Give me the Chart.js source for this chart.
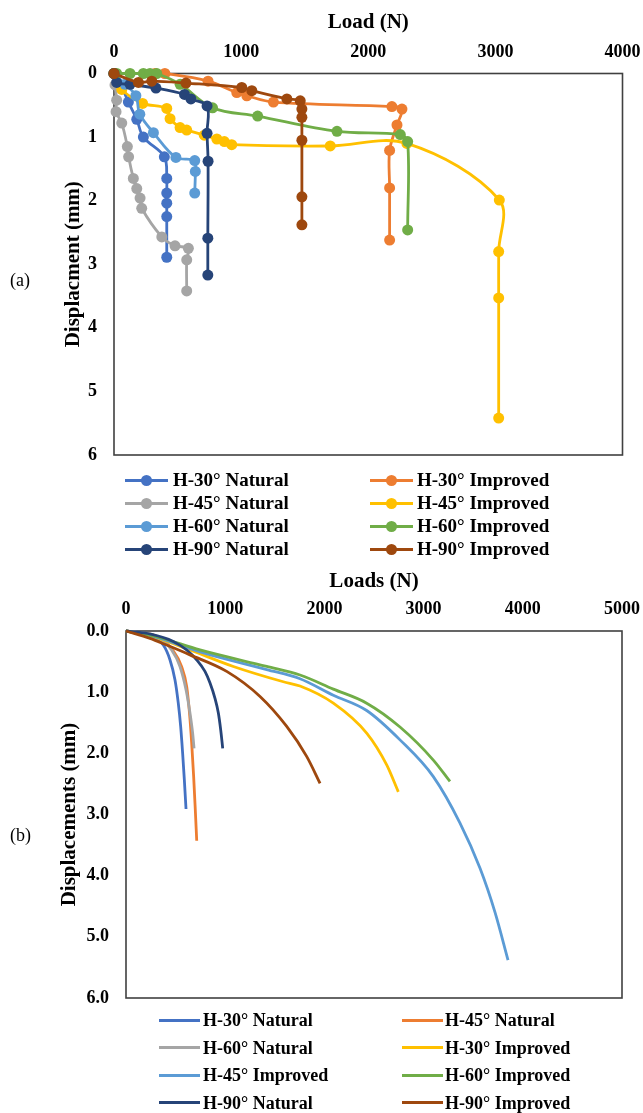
<!DOCTYPE html>
<html><head><meta charset="utf-8">
<script src="https://cdn.jsdelivr.net/npm/chart.js@4.4.1/dist/chart.umd.min.js"></script>
<style>
html,body{margin:0;padding:0;background:#fff;}
body{width:643px;height:1113px;position:relative;overflow:hidden;font-family:"Liberation Serif","Times New Roman",serif;color:#000;}
canvas{position:absolute;left:0;}
.tag{position:absolute;font-size:18px;line-height:20px;}
.lg-line{position:absolute;height:3px;}
.lg-dot{position:absolute;border-radius:50%;}
.lg-text{position:absolute;font-weight:bold;white-space:nowrap;}
</style></head>
<body>
<canvas id="ca" width="643" height="470" style="top:0"></canvas>
<canvas id="cb" width="643" height="460" style="top:560px"></canvas>
<div class="tag" style="left:10px;top:270px">(a)</div>
<div class="tag" style="left:10px;top:825px">(b)</div>
<div id="legA"></div>
<div id="legB"></div>
<script>
// ---------- Chart (a) data ----------
const namesA = ["H-30° Natural","H-30° Improved","H-45° Natural","H-45° Improved","H-60° Natural","H-60° Improved","H-90° Natural","H-90° Improved"];
const h30NatLoadA = [0, 60, 113, 179, 231, 396, 415, 415, 415, 415, 415];
const h30NatDispA = [0, 0.20, 0.45, 0.72, 1.00, 1.31, 1.65, 1.88, 2.04, 2.25, 2.89];
const h30ImpLoadA = [0, 323, 400, 740, 966, 1045, 1254, 2186, 2265, 2226, 2168, 2168, 2168];
const h30ImpDispA = [0, 0, 0, 0.12, 0.30, 0.35, 0.45, 0.52, 0.56, 0.81, 1.21, 1.80, 2.62];
const h45NatLoadA = [0, 8, 21, 16, 61, 105, 115, 152, 179, 205, 218, 376, 480, 585, 572, 572];
const h45NatDispA = [0, 0.18, 0.42, 0.60, 0.78, 1.15, 1.31, 1.65, 1.81, 1.96, 2.12, 2.57, 2.71, 2.75, 2.93, 3.42];
const h45ImpLoadA = [0, 61, 225, 415, 441, 520, 572, 710, 809, 868, 926, 1701, 2304, 3031, 3026, 3026, 3026];
const h45ImpDispA = [0, 0.25, 0.47, 0.55, 0.71, 0.85, 0.89, 0.97, 1.03, 1.07, 1.12, 1.14, 1.10, 1.99, 2.80, 3.53, 5.42];
const h60NatLoadA = [0, 87, 172, 203, 310, 487, 635, 640, 635];
const h60NatDispA = [0, 0.17, 0.35, 0.64, 0.93, 1.32, 1.37, 1.54, 1.88];
const h60ImpLoadA = [0, 21, 126, 231, 283, 336, 520, 775, 1130, 1754, 2252, 2310, 2310];
const h60ImpDispA = [0, 0, 0, 0, 0, 0, 0.17, 0.54, 0.67, 0.91, 0.96, 1.07, 2.46];
const h90NatLoadA = [0, 21, 126, 330, 555, 605, 732, 732, 740, 738, 738];
const h90NatDispA = [0, 0.14, 0.17, 0.23, 0.33, 0.40, 0.51, 0.94, 1.38, 2.59, 3.17];
const h90ImpLoadA = [0, 192, 297, 566, 1005, 1084, 1360, 1465, 1478, 1478, 1478, 1478, 1478];
const h90ImpDispA = [0, 0.14, 0.12, 0.15, 0.22, 0.27, 0.40, 0.43, 0.56, 0.69, 1.05, 1.94, 2.38];
const xTicksA = [0, 1000, 2000, 3000, 4000];
const yTicksA = [0, 1, 2, 3, 4, 5, 6];

// ---------- Chart (b) data ----------
const namesB = ["H-30° Natural","H-45° Natural","H-60° Natural","H-30° Improved","H-45° Improved","H-60° Improved","H-90° Natural","H-90° Improved"];
const h30NatLoadB = [0, 242, 376, 443, 494, 527, 551, 571, 588, 605];
const h30NatDispB = [0, 0.07, 0.23, 0.47, 0.80, 1.18, 1.56, 2.00, 2.43, 2.91];
const h45NatLoadB = [0, 150, 315, 470, 560, 612, 640, 662, 682, 697, 713];
const h45NatDispB = [0, 0.03, 0.09, 0.31, 0.58, 0.91, 1.34, 1.83, 2.38, 2.87, 3.43];
const h60NatLoadB = [0, 150, 309, 460, 544, 605, 645, 672, 686];
const h60NatDispB = [0, 0.03, 0.09, 0.31, 0.58, 0.96, 1.34, 1.67, 1.92];
const h30ImpLoadB = [0, 300, 645, 1082, 1586, 1754, 2090, 2426, 2628, 2745];
const h30ImpDispB = [0, 0.11, 0.31, 0.58, 0.83, 0.90, 1.18, 1.67, 2.19, 2.63];
const h45ImpLoadB = [0, 300, 746, 1418, 1754, 2090, 2426, 2762, 3098, 3367, 3569, 3720, 3851];
const h45ImpDispB = [0, 0.10, 0.34, 0.63, 0.78, 1.05, 1.30, 1.78, 2.38, 3.14, 3.88, 4.60, 5.38];
const h60ImpLoadB = [0, 300, 746, 1418, 1754, 2090, 2426, 2762, 3098, 3266];
const h60ImpDispB = [0, 0.09, 0.31, 0.58, 0.72, 0.95, 1.18, 1.57, 2.11, 2.46];
const h90NatLoadB = [0, 250, 477, 612, 712, 796, 847, 897, 931, 955, 975];
const h90NatDispB = [0, 0.05, 0.17, 0.31, 0.47, 0.66, 0.85, 1.10, 1.34, 1.62, 1.92];
const h90ImpLoadB = [0, 242, 410, 645, 1015, 1351, 1620, 1821, 1956];
const h90ImpDispB = [0, 0.12, 0.23, 0.39, 0.66, 1.07, 1.56, 2.05, 2.49];
const xTicksB = [0, 1000, 2000, 3000, 4000, 5000];
const yTicksB = [0, 1, 2, 3, 4, 5, 6];

// ---------- styles ----------
const colorsA = ["#4472C4","#ED7D31","#A5A5A5","#FFC000","#5B9BD5","#70AD47","#264478","#9E480E"];
const colorsB = ["#4472C4","#ED7D31","#A5A5A5","#FFC000","#5B9BD5","#70AD47","#264478","#9E480E"];

const serifFont = "'Liberation Serif','Times New Roman',serif";

function pts(xs, ys){ return xs.map((x,i)=>({x:x, y:ys[i]})); }

const seriesA = [
  pts(h30NatLoadA,h30NatDispA), pts(h30ImpLoadA,h30ImpDispA),
  pts(h45NatLoadA,h45NatDispA), pts(h45ImpLoadA,h45ImpDispA),
  pts(h60NatLoadA,h60NatDispA), pts(h60ImpLoadA,h60ImpDispA),
  pts(h90NatLoadA,h90NatDispA), pts(h90ImpLoadA,h90ImpDispA)
];
const seriesB = [
  pts(h30NatLoadB,h30NatDispB), pts(h45NatLoadB,h45NatDispB),
  pts(h60NatLoadB,h60NatDispB), pts(h30ImpLoadB,h30ImpDispB),
  pts(h45ImpLoadB,h45ImpDispB), pts(h60ImpLoadB,h60ImpDispB),
  pts(h90NatLoadB,h90NatDispB), pts(h90ImpLoadB,h90ImpDispB)
];

const boxPlugin = {
  id: 'box',
  beforeDatasetsDraw(chart){
    const {ctx, chartArea:a} = chart;
    ctx.save();
    ctx.strokeStyle = '#404040';
    ctx.lineWidth = 1.6;
    ctx.strokeRect(a.left, a.top, a.right - a.left, a.bottom - a.top);
    ctx.restore();
  }
};

function makeOptions(cfg){
  return {
    responsive: false,
    animation: false,
    events: [],
    layout: { padding: { left: 0, top: 0, right: cfg.padRight, bottom: cfg.padBottom } },
    plugins: { legend: { display: false }, tooltip: { enabled: false } },
    scales: {
      x: {
        type: 'linear', position: 'top', min: cfg.xTicks[0], max: cfg.xTicks[cfg.xTicks.length-1],
        afterBuildTicks: s => { s.ticks = cfg.xTicks.map(v => ({value: v})); },
        afterFit: s => { s.height = cfg.axisH; s.paddingLeft = 0; s.paddingRight = 0; },
        grid: { display: false, drawTicks: false },
        border: { display: false },
        ticks: { padding: cfg.xTickPad, color: '#000', font: { family: serifFont, size: 18, weight: 'bold' }, maxRotation: 0,
                 callback: v => String(v) },
        title: { display: true, text: cfg.xTitle, color: '#000', padding: { top: cfg.xTitlePad, bottom: 0 },
                 font: { family: serifFont, size: 21, weight: 'bold' } }
      },
      y: {
        type: 'linear', position: 'left', reverse: true, min: cfg.yTicks[0], max: cfg.yTicks[cfg.yTicks.length-1],
        afterBuildTicks: s => { s.ticks = cfg.yTicks.map(v => ({value: v})); },
        afterFit: s => { s.width = cfg.axisW; s.paddingTop = 0; s.paddingBottom = 0; },
        grid: { display: false, drawTicks: false },
        border: { display: false },
        ticks: { padding: cfg.yTickPad, color: '#000', font: { family: serifFont, size: 18, weight: 'bold' },
                 callback: cfg.yFmt },
        title: { display: true, text: cfg.yTitle, color: '#000', padding: { top: cfg.yTitlePad, bottom: 0 },
                 font: { family: serifFont, size: 21, weight: 'bold' } }
      }
    }
  };
}

const n = 8;
new Chart(document.getElementById('ca'), {
  type: 'scatter',
  data: {
    datasets: seriesA.map((d,i) => ({
      label: namesA[i], data: d, showLine: true, tension: 0.35,
      borderColor: colorsA[i], backgroundColor: colorsA[i], borderWidth: 2.8,
      pointRadius: 5.5, pointBorderWidth: 0, pointBackgroundColor: colorsA[i],
      clip: false, order: n - i
    }))
  },
  options: makeOptions({
    padRight: 20.5, padBottom: 15, axisH: 73.5, axisW: 114,
    xTicks: xTicksA, yTicks: yTicksA, xTickPad: 10.5, xTitlePad: 9.5,
    yTickPad: 17, yTitlePad: 61, xTitle: 'Load (N)', yTitle: 'Displacment (mm)',
    yFmt: v => String(v)
  }),
  plugins: [boxPlugin]
});

new Chart(document.getElementById('cb'), {
  type: 'scatter',
  data: {
    datasets: seriesB.map((d,i) => ({
      label: namesB[i], data: d, showLine: true, cubicInterpolationMode: 'monotone',
      borderColor: colorsB[i], backgroundColor: colorsB[i], borderWidth: 2.8,
      pointRadius: 0, clip: false, order: n - i
    }))
  },
  options: makeOptions({
    padRight: 21, padBottom: 22, axisH: 71, axisW: 126,
    xTicks: xTicksB, yTicks: yTicksB, xTickPad: 11, xTitlePad: 8.5,
    yTickPad: 17, yTitlePad: 57, xTitle: 'Loads (N)', yTitle: 'Displacements (mm)',
    yFmt: v => Number(v).toFixed(1)
  }),
  plugins: [boxPlugin]
});

// ---------- HTML legends ----------
function buildLegend(id, names, colors, L){
  const root = document.getElementById(id);
  names.forEach((name, i) => {
    const row = Math.floor(i / 2), col = i % 2;
    const cy = L.rows[row];
    const x0 = L.lineX[col];
    const line = document.createElement('div');
    line.className = 'lg-line';
    line.style.left = x0 + 'px';
    line.style.width = L.lineW + 'px';
    line.style.top = (cy - 1.5) + 'px';
    line.style.background = colors[i];
    root.appendChild(line);
    if (L.dot) {
      const dot = document.createElement('div');
      dot.className = 'lg-dot';
      dot.style.width = dot.style.height = L.dot + 'px';
      dot.style.left = (x0 + L.lineW / 2 - L.dot / 2) + 'px';
      dot.style.top = (cy - L.dot / 2) + 'px';
      dot.style.background = colors[i];
      root.appendChild(dot);
    }
    const t = document.createElement('div');
    t.className = 'lg-text';
    t.textContent = name;
    t.style.fontSize = L.font + 'px';
    t.style.lineHeight = '22px';
    t.style.left = L.textX[col] + 'px';
    t.style.top = (cy - 11) + 'px';
    root.appendChild(t);
  });
}
buildLegend('legA', namesA, colorsA, { rows: [480, 503, 526, 549], lineX: [125, 370], lineW: 43, textX: [173, 417], dot: 11, font: 19 });
buildLegend('legB', namesB, colorsB, { rows: [1020, 1047.5, 1075, 1102.7], lineX: [159, 402], lineW: 41, textX: [203, 445], dot: 0, font: 18 });
</script>
</body></html>
